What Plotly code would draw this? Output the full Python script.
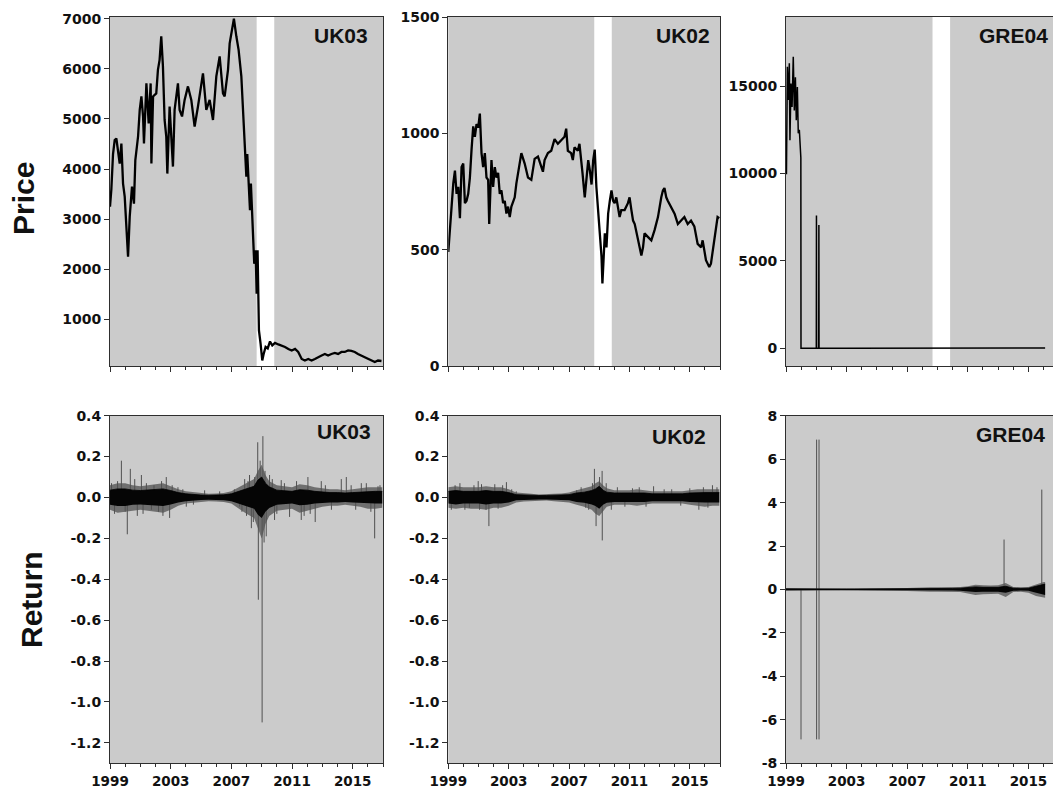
import plotly.graph_objects as go

# ---------------- data ----------------
# Price series (decimal year, price)
uk03_price_t = [1999.00, 1999.09, 1999.20, 1999.31, 1999.42, 1999.53, 1999.64, 1999.75, 1999.86, 1999.97,
                2000.08, 2000.19, 2000.30, 2000.45, 2000.58, 2000.67, 2000.85, 2000.96, 2001.07, 2001.18,
                2001.24, 2001.40, 2001.55, 2001.68, 2001.73, 2001.84, 2002.05, 2002.16, 2002.27, 2002.38,
                2002.49, 2002.60, 2002.71, 2002.78, 2002.93, 2003.04, 2003.15, 2003.26, 2003.48, 2003.59,
                2003.75, 2003.92, 2004.14, 2004.36, 2004.58, 2004.80, 2005.13, 2005.35, 2005.57, 2005.79,
                2006.01, 2006.23, 2006.45, 2006.56, 2006.78, 2006.89, 2007.04, 2007.17, 2007.33, 2007.48,
                2007.66, 2007.77, 2007.88, 2007.99, 2008.05, 2008.12, 2008.16, 2008.23, 2008.29, 2008.38,
                2008.51, 2008.60, 2008.67, 2008.73, 2008.78, 2008.82, 2008.93, 2009.04, 2009.13, 2009.26,
                2009.40, 2009.55, 2009.70, 2009.88, 2010.10, 2010.32, 2010.54, 2010.76, 2010.98, 2011.20,
                2011.41, 2011.64, 2011.85, 2012.07, 2012.29, 2012.51, 2012.73, 2012.95, 2013.17, 2013.38,
                2013.60, 2013.82, 2014.04, 2014.26, 2014.48, 2014.70, 2014.92, 2015.14, 2015.35, 2015.57,
                2015.80, 2016.02, 2016.24, 2016.46, 2016.67, 2016.90]
uk03_price = [3250, 3600, 4300, 4580, 4610, 4310, 4110, 4510, 3710, 3450,
              2950, 2250, 3050, 3650, 3310, 4180, 4650, 5180, 5450, 5050,
              4510, 5710, 4910, 5710, 4110, 5450, 5510, 5980, 6180, 6650,
              6050, 4980, 4650, 3910, 5250, 4650, 4050, 5180, 5710, 5180,
              5050, 5380, 5650, 5380, 4850, 5250, 5910, 5180, 5380, 4980,
              5850, 6250, 5510, 5450, 5980, 6510, 6780, 7000, 6650, 6380,
              5850, 5180, 4650, 3850, 4300, 3850, 3450, 3180, 3710, 2910,
              2110, 2380, 1510, 2380, 1180, 780, 510, 180, 310, 450,
              420, 560, 480, 530, 500, 480, 450, 410, 380, 410,
              350, 210, 180, 210, 180, 210, 250, 280, 310, 280,
              310, 330, 310, 350, 350, 380, 370, 350, 310, 280,
              250, 210, 190, 150, 180, 170]

uk02_price_t = [1999.00, 1999.11, 1999.22, 1999.33, 1999.44, 1999.55, 1999.66, 1999.77, 1999.88, 1999.99,
                2000.10, 2000.21, 2000.32, 2000.43, 2000.54, 2000.65, 2000.76, 2000.87, 2000.98, 2001.09,
                2001.20, 2001.31, 2001.42, 2001.53, 2001.64, 2001.71, 2001.86, 2001.97, 2002.08, 2002.19,
                2002.30, 2002.41, 2002.52, 2002.63, 2002.74, 2002.85, 2002.96, 2003.07, 2003.18, 2003.40,
                2003.51, 2003.62, 2003.84, 2004.06, 2004.28, 2004.50, 2004.61, 2004.72, 2004.94, 2005.16,
                2005.27, 2005.38, 2005.60, 2005.82, 2006.04, 2006.26, 2006.48, 2006.70, 2006.81, 2006.92,
                2007.14, 2007.25, 2007.36, 2007.58, 2007.69, 2007.80, 2007.89, 2008.04, 2008.15, 2008.27,
                2008.38, 2008.49, 2008.60, 2008.70, 2008.81, 2008.93, 2009.04, 2009.15, 2009.21, 2009.30,
                2009.37, 2009.48, 2009.59, 2009.70, 2009.81, 2009.92, 2010.02, 2010.13, 2010.24, 2010.35,
                2010.46, 2010.68, 2010.90, 2011.01, 2011.13, 2011.24, 2011.35, 2011.57, 2011.68, 2011.79,
                2011.90, 2012.00, 2012.22, 2012.45, 2012.67, 2012.89, 2013.11, 2013.22, 2013.32, 2013.44,
                2013.54, 2013.77, 2013.99, 2014.21, 2014.42, 2014.64, 2014.86, 2015.08, 2015.30, 2015.52,
                2015.75, 2015.85, 2016.07, 2016.29, 2016.40, 2016.62, 2016.84, 2016.95]
uk02_price = [490, 600, 710, 785, 840, 740, 770, 635, 855, 870,
              700, 710, 740, 810, 930, 1030, 985, 1040, 1025, 1085,
              915, 855, 915, 810, 800, 610, 885, 770, 855, 810,
              830, 740, 755, 700, 710, 655, 685, 640, 685, 725,
              785, 830, 915, 870, 810, 800, 840, 890, 900, 855,
              835, 885, 915, 925, 975, 955, 970, 985, 1020, 925,
              915, 885, 940, 925, 955, 870, 830, 725, 810, 885,
              840, 780, 885, 930, 770, 670, 570, 470, 355, 470,
              570, 510, 655, 710, 755, 710, 700, 725, 685, 640,
              670, 670, 700, 725, 670, 625, 610, 540, 510, 475,
              510, 570, 555, 540, 585, 640, 725, 755, 765, 725,
              710, 685, 655, 610, 625, 640, 610, 625, 600, 525,
              510, 540, 455, 425, 440, 540, 640, 635]

gre04_price_t = [1999.00, 1999.03, 1999.09, 1999.15, 1999.22, 1999.26, 1999.33, 1999.40, 1999.48, 1999.55,
                 1999.62, 1999.68, 1999.75, 1999.81, 1999.88, 1999.92, 1999.98, 1999.99, 2000.50, 2001.00,
                 2001.01, 2001.02, 2001.16, 2001.17, 2001.18, 2003.00, 2005.00, 2007.00, 2009.00, 2011.00,
                 2013.00, 2015.00, 2016.10]
gre04_price = [10000, 10000, 16100, 14200, 16300, 11900, 15150, 13800, 16680, 13600,
               15500, 13050, 14950, 12300, 12500, 11500, 10900, 8, 8, 8,
               7600, 8, 8, 7050, 8, 9, 10, 12, 11, 14,
               16, 18, 17]

# Return envelopes (upper, lower and dense core half-width) by period
uk_ret_t = [1999.0, 1999.5, 2000.0, 2000.5, 2001.0, 2001.5, 2002.0, 2002.5, 2003.0, 2003.5,
            2004.0, 2004.5, 2005.0, 2005.5, 2006.0, 2006.5, 2007.0, 2007.5, 2008.0, 2008.5,
            2008.75, 2009.0, 2009.25, 2009.5,
            2010.0, 2010.5, 2011.0, 2011.5, 2012.0, 2012.5, 2013.0, 2013.5, 2014.0, 2014.5,
            2015.0, 2015.5, 2016.0, 2016.5, 2016.95]
uk03_ret_hi = [0.06, 0.07, 0.07, 0.06, 0.055, 0.06, 0.065, 0.07, 0.055, 0.04,
               0.03, 0.025, 0.02, 0.018, 0.02, 0.022, 0.03, 0.05, 0.07, 0.09,
               0.13, 0.16, 0.11, 0.08,
               0.06, 0.055, 0.05, 0.065, 0.06, 0.05, 0.045, 0.04, 0.04, 0.035,
               0.04, 0.045, 0.05, 0.05, 0.05]
uk03_ret_lo = [-0.06, -0.075, -0.07, -0.065, -0.06, -0.065, -0.07, -0.075, -0.06, -0.04,
               -0.03, -0.025, -0.02, -0.018, -0.02, -0.022, -0.03, -0.055, -0.08, -0.10,
               -0.15, -0.20, -0.13, -0.09,
               -0.065, -0.06, -0.055, -0.075, -0.065, -0.055, -0.045, -0.04, -0.04, -0.035,
               -0.04, -0.045, -0.055, -0.055, -0.05]
uk03_ret_core = [0.036, 0.042, 0.042, 0.036, 0.034, 0.036, 0.038, 0.042, 0.034, 0.024,
                 0.018, 0.014, 0.012, 0.011, 0.012, 0.013, 0.018, 0.03, 0.042, 0.055,
                 0.085, 0.1, 0.07, 0.052,
                 0.036, 0.034, 0.03, 0.038, 0.036, 0.03, 0.026, 0.024, 0.024, 0.022,
                 0.024, 0.026, 0.03, 0.03, 0.03]
uk03_spike_t = [1999.10, 1999.30, 1999.50, 1999.75, 2000.00, 2000.14, 2000.34, 2000.63, 2000.80, 2001.07,
                2001.18, 2001.40, 2001.73, 2001.90, 2002.20, 2002.40, 2002.49, 2002.71, 2002.93, 2003.10,
                2003.48, 2003.80, 2004.03, 2004.50, 2005.24, 2006.23, 2007.20, 2007.55, 2007.70, 2007.88,
                2008.00, 2008.10, 2008.20, 2008.32, 2008.45, 2008.54, 2008.74, 2008.78, 2008.90, 2009.03,
                2009.08, 2009.16, 2009.22, 2009.30, 2009.52, 2009.70, 2009.85, 2010.00, 2010.29, 2010.50,
                2010.84, 2011.30, 2011.61, 2011.80, 2012.05, 2012.20, 2012.53, 2012.93, 2013.20, 2013.60,
                2014.25, 2014.58, 2014.90, 2015.20, 2015.57, 2015.90, 2016.20, 2016.45, 2016.67, 2016.80]
uk03_spike_v = [0.07, -0.08, 0.08, 0.18, -0.07, -0.18, 0.14, 0.09, -0.09, 0.11,
                -0.08, 0.07, -0.06, 0.06, -0.07, 0.08, -0.09, 0.10, -0.10, 0.06,
                0.05, 0.04, -0.045, -0.035, 0.035, 0.03, 0.04, -0.045, -0.07, 0.09,
                -0.09, 0.08, 0.11, -0.15, -0.12, 0.10, 0.27, -0.50, 0.18, -1.10,
                0.30, -0.22, 0.13, -0.19, 0.11, 0.09, -0.11, -0.08, 0.085, 0.07,
                -0.095, 0.08, -0.11, -0.09, 0.10, -0.08, -0.12, 0.08, 0.06, -0.06,
                0.09, 0.10, 0.06, -0.06, 0.07, 0.07, -0.07, -0.20, 0.055, 0.06]

uk02_ret_hi = [0.05, 0.055, 0.05, 0.05, 0.05, 0.055, 0.05, 0.05, 0.04, 0.025,
               0.02, 0.018, 0.015, 0.015, 0.018, 0.02, 0.025, 0.035, 0.045, 0.055,
               0.07, 0.08, 0.06, 0.045,
               0.035, 0.035, 0.035, 0.04, 0.035, 0.03, 0.03, 0.03, 0.03, 0.03,
               0.035, 0.04, 0.04, 0.04, 0.04]
uk02_ret_lo = [-0.05, -0.055, -0.05, -0.055, -0.055, -0.06, -0.05, -0.05, -0.04, -0.025,
               -0.02, -0.018, -0.015, -0.015, -0.018, -0.02, -0.025, -0.035, -0.045, -0.06,
               -0.08, -0.09, -0.065, -0.045,
               -0.035, -0.035, -0.035, -0.04, -0.035, -0.03, -0.03, -0.03, -0.03, -0.03,
               -0.035, -0.04, -0.045, -0.04, -0.04]
uk02_ret_core = [0.03, 0.034, 0.03, 0.03, 0.03, 0.034, 0.03, 0.03, 0.024, 0.014,
                 0.012, 0.011, 0.01, 0.01, 0.011, 0.012, 0.014, 0.022, 0.026, 0.034,
                 0.042, 0.055, 0.036, 0.026,
                 0.022, 0.022, 0.022, 0.024, 0.022, 0.018, 0.018, 0.018, 0.018, 0.018,
                 0.022, 0.024, 0.024, 0.024, 0.024]
uk02_spike_t = [1999.20, 1999.45, 1999.77, 2000.10, 2000.40, 2000.70, 2000.98, 2001.07, 2001.20, 2001.50,
                2001.69, 2002.08, 2002.30, 2002.60, 2002.85, 2003.20, 2003.50, 2007.50, 2007.80, 2008.10,
                2008.30, 2008.55, 2008.68, 2008.79, 2009.02, 2009.19, 2009.20, 2009.46, 2009.80, 2010.20,
                2010.70, 2011.20, 2011.65, 2012.10, 2012.60, 2013.30, 2013.80, 2014.40, 2015.00, 2015.60,
                2015.90, 2016.20, 2016.50, 2016.80]
uk02_spike_v = [-0.06, 0.06, 0.07, -0.06, -0.05, 0.06, 0.08, -0.06, 0.065, -0.06,
                -0.14, 0.065, -0.055, 0.06, 0.075, 0.04, 0.03, 0.035, 0.05, -0.05,
                -0.06, 0.07, 0.14, -0.14, 0.10, 0.13, -0.21, 0.07, -0.06, 0.05,
                -0.045, 0.045, 0.05, -0.045, 0.055, 0.04, 0.04, -0.04, 0.045, -0.06,
                0.05, -0.05, 0.06, 0.05]

gre04_ret_t = [1999.0, 1999.5, 2000.0, 2000.5, 2001.0, 2001.5, 2002.0, 2002.5, 2003.0, 2003.5,
               2004.0, 2004.5, 2005.0, 2005.5, 2006.0, 2006.5, 2007.0, 2007.5, 2008.0, 2008.5,
               2009.0, 2009.5, 2010.0, 2010.5, 2011.0, 2011.5, 2012.0, 2012.5, 2013.0, 2013.5,
               2014.0, 2014.5, 2015.0, 2015.5, 2016.0, 2016.1]
gre04_ret_hi = [0.06, 0.05, 0.05, 0.05, 0.05, 0.05, 0.05, 0.04, 0.04, 0.04,
                0.04, 0.04, 0.04, 0.05, 0.05, 0.06, 0.07, 0.08, 0.10, 0.10,
                0.10, 0.10, 0.10, 0.12, 0.15, 0.22, 0.20, 0.18, 0.20, 0.30,
                0.12, 0.10, 0.12, 0.25, 0.35, 0.35]
gre04_ret_lo = [-0.06, -0.05, -0.05, -0.05, -0.05, -0.05, -0.05, -0.04, -0.04, -0.04,
                -0.04, -0.04, -0.04, -0.05, -0.05, -0.06, -0.07, -0.08, -0.10, -0.10,
                -0.10, -0.10, -0.10, -0.12, -0.18, -0.25, -0.22, -0.20, -0.20, -0.35,
                -0.12, -0.10, -0.15, -0.30, -0.38, -0.38]
gre04_ret_core = [0.03, 0.025, 0.025, 0.025, 0.025, 0.025, 0.025, 0.02, 0.02, 0.02,
                  0.02, 0.02, 0.02, 0.025, 0.025, 0.03, 0.035, 0.04, 0.05, 0.05,
                  0.05, 0.05, 0.05, 0.06, 0.08, 0.12, 0.10, 0.09, 0.10, 0.15,
                  0.06, 0.05, 0.06, 0.15, 0.25, 0.25]
gre04_spike_t = [1999.99, 2001.02, 2001.02, 2001.18, 2001.18, 2013.39, 2015.88]
gre04_spike_v = [-6.9, 6.9, -6.9, 6.9, -6.9, 2.3, 4.6]

# Axis ticks and labels
year_ticks = [1999, 2003, 2007, 2011, 2015]
year_labels = ["1999", "2003", "2007", "2011", "2015"]
uk03_price_ticks = [1000, 2000, 3000, 4000, 5000, 6000, 7000]
uk02_price_ticks = [0, 500, 1000, 1500]
gre04_price_ticks = [0, 5000, 10000, 15000]
uk_ret_ticks = [-1.2, -1.0, -0.8, -0.6, -0.4, -0.2, 0.0, 0.2, 0.4]
uk_ret_labels = ["-1.2", "-1.0", "-0.8", "-0.6", "-0.4", "-0.2", "0.0", "0.2", "0.4"]
gre04_ret_ticks = [-8, -6, -4, -2, 0, 2, 4, 6, 8]
gre04_ret_labels = ["-8", "-6", "-4", "-2", "0", "2", "4", "6", "8"]
series_names = ["UK03", "UK02", "GRE04"]
row_titles = ["Price", "Return"]
shaded_period = [2008.67, 2009.83]

# ---------------- styling ----------------
W, H = 1053, 792
BG = "#cbcbcb"
AXC = "#2e2e2e"
TICK_FONT = dict(family="DejaVu Sans", size=14, color="#111111", weight="bold")
XTICK_FONT = dict(family="DejaVu Sans", size=13.5, color="#111111", weight="bold")
LABEL_FONT = dict(family="Liberation Sans, Arial", size=21, color="#111111", weight="bold")
TITLE_FONT = dict(family="Liberation Sans, Arial", size=30, color="#111111", weight="bold")
price_widths = [2.3, 2.3, 1.5]

col_px = [(110, 383), (448.3, 720), (786, 1053)]
row_px = [(17, 366), (415.7, 763.3)]
x_ranges = [[1999, 2017], [1999, 2017], [1999, 2016.62]]
y_ranges = [[70, 7035], [0, 1500], [-1010, 18950],
            [-1.3, 0.4], [-1.3, 0.4], [-8, 8]]
y_tickvals = [uk03_price_ticks, uk02_price_ticks, gre04_price_ticks,
              uk_ret_ticks, uk_ret_ticks, gre04_ret_ticks]
y_ticktext = [[str(v) for v in uk03_price_ticks], [str(v) for v in uk02_price_ticks],
              [str(v) for v in gre04_price_ticks], uk_ret_labels, uk_ret_labels, gre04_ret_labels]

fig = go.Figure()


def axis_ids(k):
    return ("x" if k == 0 else f"x{k + 1}"), ("y" if k == 0 else f"y{k + 1}")


# price panels
for k, (t, v) in enumerate([(uk03_price_t, uk03_price), (uk02_price_t, uk02_price),
                            (gre04_price_t, gre04_price)]):
    xa, ya = axis_ids(k)
    fig.add_trace(go.Scatter(x=t, y=v, mode="lines", line=dict(color="#000000", width=price_widths[k]),
                             xaxis=xa, yaxis=ya, showlegend=False, hoverinfo="skip"))


def spike_segments(ts, vs):
    xs, ys = [], []
    for t, v in zip(ts, vs):
        xs += [t, t, None]
        ys += [0, v, None]
    return xs, ys


ret_sets = [(uk_ret_t, uk03_ret_hi, uk03_ret_lo, uk03_ret_core, uk03_spike_t, uk03_spike_v),
            (uk_ret_t, uk02_ret_hi, uk02_ret_lo, uk02_ret_core, uk02_spike_t, uk02_spike_v),
            (gre04_ret_t, gre04_ret_hi, gre04_ret_lo, gre04_ret_core, gre04_spike_t, gre04_spike_v)]

for c, (t, hi, lo, core, st, sv) in enumerate(ret_sets):
    xa, ya = axis_ids(3 + c)
    # outer envelope of daily returns
    fig.add_trace(go.Scatter(x=t, y=lo, mode="lines", line=dict(width=0, color="#606060"),
                             xaxis=xa, yaxis=ya, showlegend=False, hoverinfo="skip"))
    fig.add_trace(go.Scatter(x=t, y=hi, mode="lines", line=dict(width=0),
                             fill="tonexty", fillcolor="rgba(20,20,20,0.5)",
                             xaxis=xa, yaxis=ya, showlegend=False, hoverinfo="skip"))
    # isolated large returns
    sx, sy = spike_segments(st, sv)
    fig.add_trace(go.Scatter(x=sx, y=sy, mode="lines", line=dict(width=1, color="#505050"),
                             xaxis=xa, yaxis=ya, showlegend=False, hoverinfo="skip"))
    # dense core
    fig.add_trace(go.Scatter(x=t, y=[-a for a in core], mode="lines", line=dict(width=0),
                             xaxis=xa, yaxis=ya, showlegend=False, hoverinfo="skip"))
    fig.add_trace(go.Scatter(x=t, y=core, mode="lines", line=dict(width=0.8, color="#000000"),
                             fill="tonexty", fillcolor="#050505",
                             xaxis=xa, yaxis=ya, showlegend=False, hoverinfo="skip"))

layout = dict(width=W, height=H, autosize=False,
              margin=dict(l=0, r=0, t=0, b=0, pad=0, autoexpand=False),
              paper_bgcolor="white", plot_bgcolor=BG, showlegend=False)

for k in range(6):
    r, c = divmod(k, 3)
    x0, x1 = col_px[c]
    yt, yb = row_px[r]
    xkey = "xaxis" if k == 0 else f"xaxis{k + 1}"
    ykey = "yaxis" if k == 0 else f"yaxis{k + 1}"
    xa, ya = axis_ids(k)
    layout[xkey] = dict(
        domain=[x0 / W, x1 / W], range=x_ranges[c], anchor=ya, automargin=False,
        tickmode="array", tickvals=year_ticks, ticktext=year_labels,
        showticklabels=(r == 1), tickfont=XTICK_FONT,
        ticks="outside", ticklen=5, tickwidth=1, tickcolor=AXC,
        minor=dict(tickmode="linear", tick0=1999, dtick=1, ticks="outside",
                   ticklen=3, tickwidth=1, tickcolor=AXC),
        showline=True, linecolor=AXC, linewidth=1, mirror=True,
        showgrid=False, zeroline=False, fixedrange=True)
    layout[ykey] = dict(
        domain=[1 - yb / H, 1 - yt / H], range=y_ranges[k], anchor=xa, automargin=False,
        tickmode="array", tickvals=y_tickvals[k], ticktext=y_ticktext[k],
        tickfont=TICK_FONT, ticks="outside", ticklen=5, tickwidth=1, tickcolor=AXC,
        showline=True, linecolor=AXC, linewidth=1, mirror=(c != 2),
        showgrid=False, zeroline=False, fixedrange=True)

# white band marking the shaded period on the price panels
shapes = []
for k in range(3):
    xa, ya = axis_ids(k)
    shapes.append(dict(type="rect", xref=xa, yref=f"{ya} domain", x0=shaded_period[0], x1=shaded_period[1],
                       y0=0, y1=1, fillcolor="white", line=dict(width=0), layer="below"))
layout["shapes"] = shapes

annotations = []
label_pos = [[(370, 36), (712, 36), (1050, 36)], [(373, 432), (708, 436), (1047, 435)]]
for r in range(2):
    for c in range(3):
        xp, yp = label_pos[r][c]
        annotations.append(dict(text=series_names[c], x=xp / W, y=1 - yp / H, xref="paper", yref="paper",
                                xanchor="right", yanchor="middle", showarrow=False, font=LABEL_FONT))
for title, (xp, yp) in zip(row_titles, [(23, 199), (31, 600)]):
    annotations.append(dict(text=title, x=xp / W, y=1 - yp / H, xref="paper", yref="paper",
                            xanchor="center", yanchor="middle", textangle=-90, showarrow=False,
                            font=TITLE_FONT))
layout["annotations"] = annotations

fig.update_layout(**layout)
fig.write_html("out.html", config={"displayModeBar": False})
